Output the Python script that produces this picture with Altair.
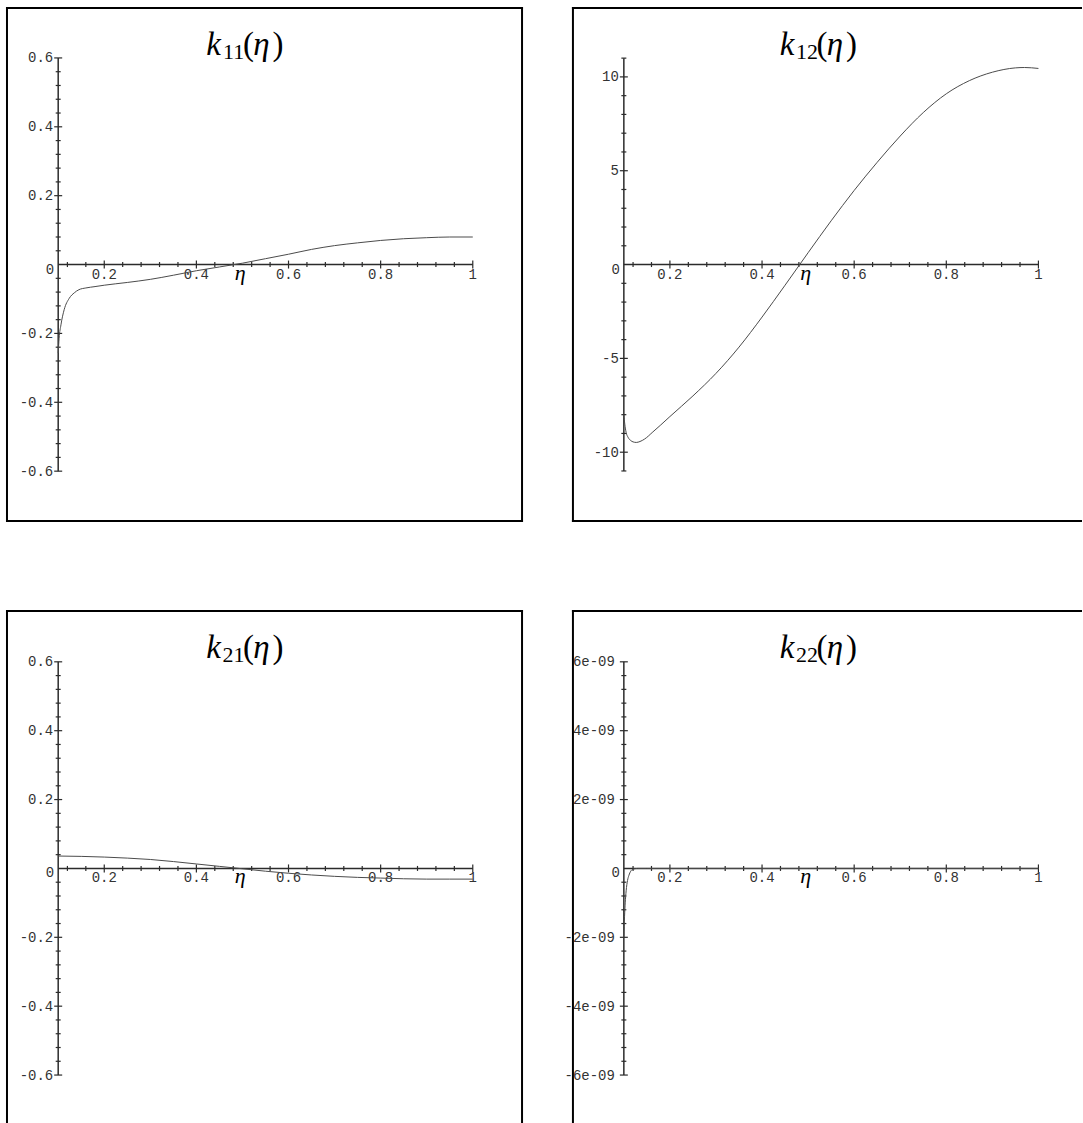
import altair as alt
import pandas as pd

# ---------------- data ----------------
eta11 = [0.1, 0.102, 0.106, 0.113, 0.124, 0.135, 0.145, 0.16, 0.18, 0.2, 0.25, 0.3, 0.35,
         0.4, 0.45, 0.5, 0.55, 0.6, 0.65, 0.7, 0.75, 0.8, 0.85, 0.9, 0.95, 1.0]
k11 = [-0.257, -0.214, -0.175, -0.131, -0.098, -0.082, -0.073, -0.068, -0.064, -0.060,
       -0.052, -0.043, -0.031, -0.018, -0.007, 0.004, 0.017, 0.030, 0.044, 0.055,
       0.063, 0.070, 0.075, 0.078, 0.080, 0.080]

eta12 = [0.1, 0.102, 0.105, 0.109, 0.115, 0.12, 0.127, 0.135, 0.145, 0.163, 0.18, 0.2,
         0.25, 0.3, 0.35, 0.4, 0.45, 0.5, 0.55, 0.6, 0.65, 0.7, 0.75, 0.8, 0.85, 0.9,
         0.95, 0.97, 1.0]
k12 = [-8.0, -8.5, -8.95, -9.2, -9.38, -9.45, -9.48, -9.43, -9.3, -8.92, -8.55, -8.1,
       -7.0, -5.8, -4.4, -2.8, -1.1, 0.63, 2.33, 3.95, 5.45, 6.85, 8.1, 9.1, 9.8,
       10.25, 10.48, 10.5, 10.45]

eta21 = [0.1, 0.15, 0.2, 0.25, 0.3, 0.35, 0.4, 0.45, 0.5, 0.55, 0.6, 0.65, 0.7, 0.75,
         0.8, 0.85, 0.9, 0.95, 1.0]
k21 = [0.036, 0.035, 0.033, 0.030, 0.026, 0.020, 0.013, 0.006, -0.001, -0.008, -0.014,
       -0.019, -0.023, -0.026, -0.028, -0.030, -0.031, -0.031, -0.031]

eta22 = [0.1, 0.1015, 0.103, 0.105, 0.108, 0.111, 0.115, 0.12, 0.13, 0.15, 0.3, 0.5,
         0.7, 1.0]
k22 = [-2.0e-9, -1.4e-9, -1.0e-9, -0.65e-9, -0.35e-9, -0.2e-9, -0.08e-9, -0.02e-9,
       0.0, 0.0, 0.0, 0.0, 0.0, 0.0]

x_major = [0.2, 0.4, 0.6, 0.8, 1.0]
x_major_labels = ["0.2", "0.4", "0.6", "0.8", "1"]
x_minor = [0.12, 0.16, 0.24, 0.28, 0.32, 0.36, 0.44, 0.48, 0.52, 0.56, 0.64, 0.68,
           0.72, 0.76, 0.84, 0.88, 0.92, 0.96]

y_major_small = [-0.6, -0.4, -0.2, 0.2, 0.4, 0.6]
y_major_small_labels = ["-0.6", "-0.4", "-0.2", "0.2", "0.4", "0.6"]
y_minor_small = [round(i * 0.04, 2) for i in range(-15, 16) if i % 5 != 0]

y_major_12 = [-10, -5, 5, 10]
y_major_12_labels = ["-10", "-5", "5", "10"]
y_minor_12 = [i for i in range(-11, 12) if i % 5 != 0]

y_major_22 = [-6e-9, -4e-9, -2e-9, 2e-9, 4e-9, 6e-9]
y_major_22_labels = ["-6e-09", "-4e-09", "-2e-09", "2e-09", "4e-09", "6e-09"]
y_minor_22 = [i * 0.4e-9 for i in range(-15, 16) if i % 5 != 0]

# ---------------- styling ----------------
MONO = "Liberation Mono"
SERIF = "Liberation Serif"
AXIS = "#2b2b2b"
TXT = "#333333"
CURVE = "#4a4a4a"
PX_X = 461.5          # pixels per unit of eta
LBL = 14
ETA_LABEL_X = 0.495
ONE = pd.DataFrame({"n": [0]})


def panel(eta, vals, sub, y_major, y_labels, y_minor, ymax, s, W, H, ax, ay,
          right_col, bottom_row, ylab_dx):
    x0, x1 = eta[0], eta[-1]
    xs = alt.Scale(domain=[x0 - ax / PX_X, x0 + (W - ax) / PX_X], nice=False, zero=False)
    ys = alt.Scale(domain=[-(H - ay) / s, ay / s], nice=False, zero=False)

    def ex(f):
        return alt.X(f, type="quantitative", scale=xs, axis=None)

    def ey(f):
        return alt.Y(f, type="quantitative", scale=ys, axis=None)

    layers = []
    # axis lines
    axes_df = pd.DataFrame({"x": [x0, x0], "x2": [x1, x0], "y": [0, -ymax], "y2": [0, ymax]})
    layers.append(alt.Chart(axes_df).mark_rule(color=AXIS, strokeWidth=1.5).encode(
        x=ex("x"), x2=alt.X2("x2"), y=ey("y"), y2=alt.Y2("y2")))
    # x ticks
    xmaj = pd.DataFrame({"x": x_major, "y": [0] * len(x_major), "label": x_major_labels})
    xmin = pd.DataFrame({"x": x_minor, "y": [0] * len(x_minor)})
    layers.append(alt.Chart(xmaj).mark_tick(orient="vertical", size=8, thickness=1.2,
                                            color=AXIS, opacity=1).encode(x=ex("x"), y=ey("y")))
    layers.append(alt.Chart(xmin).mark_tick(orient="vertical", size=5, thickness=1.2,
                                            color=AXIS, opacity=1).encode(x=ex("x"), y=ey("y")))
    layers.append(alt.Chart(xmaj).mark_text(font=MONO, fontSize=LBL, color=TXT, align="center",
                                            baseline="alphabetic", dy=14).encode(
        x=ex("x"), y=ey("y"), text="label:N"))
    # origin label
    orig = pd.DataFrame({"x": [x0], "y": [0], "label": ["0"]})
    layers.append(alt.Chart(orig).mark_text(font=MONO, fontSize=LBL, color=TXT, align="right",
                                            baseline="alphabetic", dx=-4, dy=9).encode(
        x=ex("x"), y=ey("y"), text="label:N"))
    # y ticks
    ymaj = pd.DataFrame({"x": [x0] * len(y_major), "y": y_major, "label": y_labels})
    ymin = pd.DataFrame({"x": [x0] * len(y_minor), "y": y_minor})
    layers.append(alt.Chart(ymaj).mark_tick(orient="horizontal", size=8, thickness=1.2,
                                            color=AXIS, opacity=1).encode(x=ex("x"), y=ey("y")))
    layers.append(alt.Chart(ymin).mark_tick(orient="horizontal", size=5, thickness=1.2,
                                            color=AXIS, opacity=1).encode(x=ex("x"), y=ey("y")))
    layers.append(alt.Chart(ymaj).mark_text(font=MONO, fontSize=LBL, color=TXT, align="right",
                                            baseline="alphabetic", dx=ylab_dx, dy=4.5).encode(
        x=ex("x"), y=ey("y"), text="label:N"))
    # eta axis label
    etal = pd.DataFrame({"x": [ETA_LABEL_X], "y": [0], "label": ["η"]})
    layers.append(alt.Chart(etal).mark_text(font=SERIF, fontSize=22, fontStyle="italic",
                                            color="black", align="center",
                                            baseline="alphabetic", dy=15).encode(
        x=ex("x"), y=ey("y"), text="label:N"))
    # curve
    cdf = pd.DataFrame({"eta": eta, "k": vals})
    layers.append(alt.Chart(cdf).mark_line(color=CURVE, strokeWidth=1,
                                           interpolate="monotone").encode(
        x=ex("eta"), y=ey("k")))
    # title  k_{ij}(eta)
    off = 7.5 if right_col else 0
    bl = 47.5
    pieces = [("k", 207, bl, 33, "italic"), (sub, 227, bl + 4, 22, "normal"),
              ("(", 242, bl, 33, "normal"), ("η", 255, bl, 33, "italic"),
              (")", 271.5, bl, 33, "normal")]
    for txt, cx, by, fs, st in pieces:
        layers.append(alt.Chart(ONE).mark_text(text=txt, font=SERIF, fontSize=fs, fontStyle=st,
                                               color="black", align="center",
                                               baseline="alphabetic").encode(
            x=alt.value(cx + off), y=alt.value(by)))
    # frame
    fw = 2
    ybot = H + 1 if bottom_row else H
    xr = W if right_col else W + 1
    layers.append(alt.Chart(ONE).mark_rule(color="black", strokeWidth=fw).encode(
        x=alt.value(0), y=alt.value(-1), y2=alt.value(ybot)))
    layers.append(alt.Chart(ONE).mark_rule(color="black", strokeWidth=fw).encode(
        x=alt.value(-1), x2=alt.value(xr), y=alt.value(0)))
    if not right_col:
        layers.append(alt.Chart(ONE).mark_rule(color="black", strokeWidth=fw).encode(
            x=alt.value(W), y=alt.value(-1), y2=alt.value(ybot)))
    if bottom_row:
        layers.append(alt.Chart(ONE).mark_rule(color="black", strokeWidth=fw).encode(
            x=alt.value(-1), x2=alt.value(xr), y=alt.value(H)))
    return alt.layer(*layers).properties(width=W, height=H)


p11 = panel(eta11, k11, "11", y_major_small, y_major_small_labels, y_minor_small, 0.6,
            345.0, 516, 514, 51.3, 257, False, True, -5)
p12 = panel(eta12, k12, "12", y_major_12, y_major_12_labels, y_minor_12, 11,
            18.8, 510, 514, 51.0, 257, True, True, -5)
p21 = panel(eta21, k21, "21", y_major_small, y_major_small_labels, y_minor_small, 0.6,
            345.0, 516, 513, 51.3, 258, False, False, -5)
p22 = panel(eta22, k22, "22", y_major_22, y_major_22_labels, y_minor_22, 6e-9,
            3.45e10, 510, 513, 51.0, 258, True, False, -9)

chart = alt.concat(
    p11, p12, p21, p22, columns=2,
    spacing=alt.RowColnumber(row=90, column=51),
    bounds="flush",
).properties(
    padding={"left": 5, "top": 5, "right": 0, "bottom": 0},
    background="white",
).configure_view(strokeWidth=0)

chart.save("out.html", embed_options={"renderer": "svg", "actions": False})
